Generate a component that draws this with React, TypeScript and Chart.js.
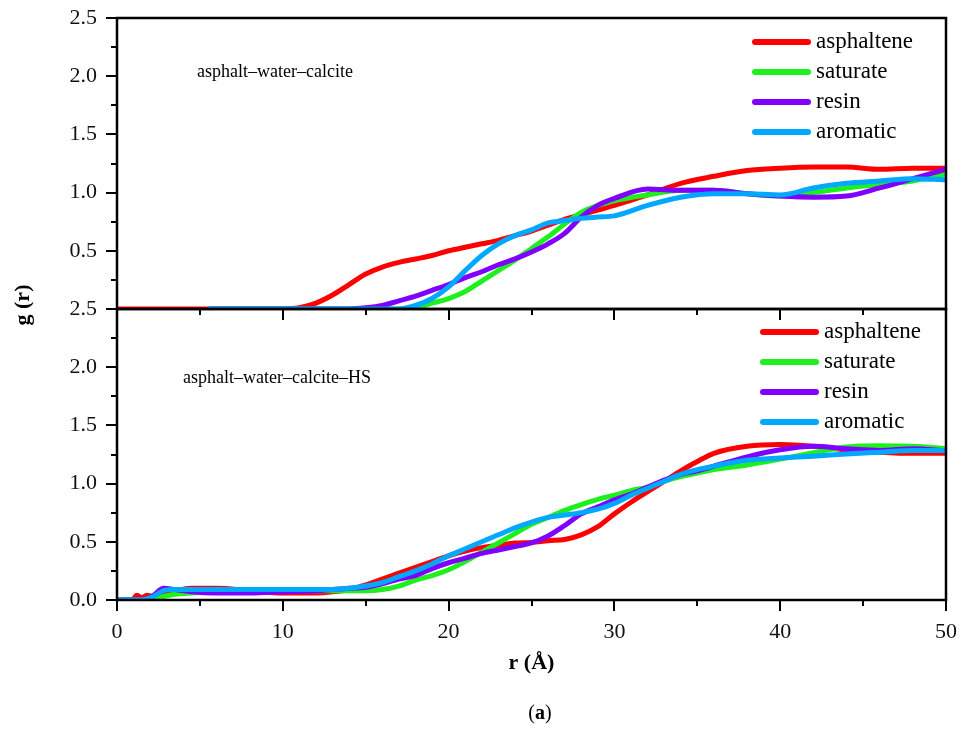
import { useEffect, useRef } from "react";
import { Chart, registerables } from "chart.js";

Chart.register(...registerables);

// Series shown in both panels
const SERIES = ["asphaltene", "saturate", "resin", "aromatic"];
const COLORS = ["#ff0000", "#1ef01e", "#8000ff", "#00a8ff"];
const PANEL_TITLES = ["asphalt\u2013water\u2013calcite", "asphalt\u2013water\u2013calcite\u2013HS"];

// Upper panel: asphalt–water–calcite, g(r) against r (Å)
const R_TOP = [0, 5.6, 10, 11, 12, 13, 14, 15, 16, 17, 18, 19, 20, 21, 22, 23, 24, 25, 26, 27, 28, 29, 30, 32, 34, 36, 38, 40, 42, 44, 46, 48, 50];
const TOP_ASPHALTENE = [0, 0, 0, 0.01, 0.05, 0.12, 0.21, 0.3, 0.36, 0.4, 0.43, 0.46, 0.5, 0.53, 0.56, 0.59, 0.63, 0.67, 0.72, 0.77, 0.81, 0.85, 0.89, 0.98, 1.08, 1.14, 1.19, 1.21, 1.22, 1.22, 1.2, 1.21, 1.21];
const TOP_SATURATE = [null, 0, 0, 0, 0, 0, 0, 0, 0, 0, 0.01, 0.05, 0.09, 0.15, 0.24, 0.33, 0.42, 0.52, 0.62, 0.73, 0.83, 0.89, 0.93, 0.98, 1.02, 1.02, 0.99, 0.97, 1.0, 1.04, 1.07, 1.1, 1.16];
const TOP_RESIN = [null, 0, 0, 0, 0, 0, 0, 0.01, 0.03, 0.07, 0.11, 0.16, 0.21, 0.27, 0.32, 0.38, 0.43, 0.49, 0.56, 0.65, 0.79, 0.89, 0.95, 1.03, 1.02, 1.02, 0.99, 0.97, 0.96, 0.97, 1.04, 1.12, 1.2];
const TOP_AROMATIC = [null, 0, 0, 0, 0, 0, 0, 0, 0, 0, 0.03, 0.09, 0.19, 0.33, 0.46, 0.56, 0.63, 0.68, 0.74, 0.76, 0.78, 0.79, 0.8, 0.89, 0.96, 0.99, 0.99, 0.98, 1.04, 1.08, 1.1, 1.12, 1.11];

// Lower panel: asphalt–water–calcite–HS
const R_BOTTOM = [0, 0.9, 1.2, 1.5, 1.8, 2.2, 2.8, 3.5, 4.5, 6, 8, 10, 12, 13, 14, 15, 16, 17, 18, 19, 20, 21, 22, 23, 24, 25, 26, 27, 28, 29, 30, 31, 32, 33, 34, 35, 36, 38, 40, 42, 44, 46, 48, 50];
const BOT_ASPHALTENE = [0, 0, 0.04, 0.02, 0.04, 0.03, 0.07, 0.08, 0.1, 0.1, 0.08, 0.06, 0.06, 0.07, 0.09, 0.13, 0.18, 0.23, 0.28, 0.33, 0.38, 0.42, 0.45, 0.47, 0.49, 0.495, 0.51, 0.52, 0.56, 0.63, 0.74, 0.84, 0.93, 1.02, 1.11, 1.19, 1.26, 1.32, 1.335, 1.32, 1.29, 1.27, 1.26, 1.26];
const BOT_SATURATE = [0, 0, 0, 0, 0, 0, 0.03, 0.05, 0.06, 0.07, 0.08, 0.08, 0.08, 0.08, 0.08, 0.08, 0.09, 0.12, 0.17, 0.21, 0.26, 0.33, 0.41, 0.49, 0.57, 0.65, 0.71, 0.77, 0.82, 0.865, 0.9, 0.94, 0.97, 1.02, 1.06, 1.09, 1.12, 1.16, 1.21, 1.265, 1.315, 1.325, 1.32, 1.3];
const BOT_RESIN = [0, 0, 0, 0, 0.01, 0.04, 0.1, 0.09, 0.07, 0.06, 0.06, 0.07, 0.08, 0.09, 0.1, 0.11, 0.14, 0.18, 0.21, 0.27, 0.32, 0.36, 0.4, 0.43, 0.46, 0.49, 0.55, 0.64, 0.74, 0.8, 0.86, 0.91, 0.97, 1.03, 1.08, 1.11, 1.15, 1.23, 1.29, 1.32, 1.3, 1.285, 1.3, 1.28];
const BOT_AROMATIC = [0, 0, 0, 0, 0.01, 0.03, 0.08, 0.09, 0.09, 0.09, 0.09, 0.09, 0.09, 0.09, 0.1, 0.12, 0.15, 0.2, 0.25, 0.31, 0.38, 0.44, 0.5, 0.56, 0.62, 0.67, 0.71, 0.73, 0.75, 0.78, 0.83, 0.9, 0.96, 1.02, 1.08, 1.12, 1.15, 1.2, 1.22, 1.235, 1.255, 1.27, 1.285, 1.285];

const R_MAX = 50;
const G_MAX = 2.5;
const R_STEP = 10;
const G_STEP = 0.5;

const SERIF = "'Liberation Serif', 'Times New Roman', serif";

type Pt = { x: number; y: number };
function toPoints(rs: number[], gs: (number | null)[]): Pt[] {
  const out: Pt[] = [];
  rs.forEach((r, i) => {
    const g = gs[i];
    if (g !== null && g !== undefined) out.push({ x: r, y: g });
  });
  return out;
}

// Panel frames plus major/minor tick marks on the left and bottom edges
const framePlugin = {
  id: "panelFrames",
  afterDatasetsDraw(chart: any) {
    const { ctx, scales } = chart;
    const x = scales.x;
    const panels = [scales.yTop, scales.yBot];
    ctx.save();
    ctx.strokeStyle = "#000";
    ctx.lineWidth = 2.5;
    for (const ys of panels) {
      ctx.strokeRect(x.left, ys.top, x.right - x.left, ys.bottom - ys.top);
    }
    ctx.lineWidth = 2;
    ctx.beginPath();
    for (const ys of panels) {
      for (let k = 0; k <= 10; k++) {
        const v = k * 0.25;
        const len = k % 2 === 0 ? 11 : 6;
        const py = Math.round(ys.getPixelForValue(v));
        ctx.moveTo(x.left - len, py);
        ctx.lineTo(x.left, py);
      }
      for (let k = 0; k <= 10; k++) {
        const v = k * 5;
        const len = k % 2 === 0 ? 11 : 6;
        const px = Math.round(x.getPixelForValue(v));
        ctx.moveTo(px, ys.bottom);
        ctx.lineTo(px, ys.bottom + len);
      }
    }
    ctx.stroke();
    ctx.restore();
  },
};

// Legends, panel captions, axis titles and figure label
const textPlugin = {
  id: "panelText",
  afterDraw(chart: any) {
    const { ctx, chartArea, scales } = chart;
    const yTop = scales.yTop;
    const yBot = scales.yBot;
    ctx.save();
    ctx.fillStyle = "#000";
    ctx.textBaseline = "middle";

    const legends = [
      { lineStart: chartArea.right - 191, lineEnd: chartArea.right - 138, textX: chartArea.right - 130, firstY: yTop.top + 24 },
      { lineStart: chartArea.right - 183, lineEnd: chartArea.right - 130, textX: chartArea.right - 122, firstY: yBot.top + 23 },
    ];
    for (const lg of legends) {
      SERIES.forEach((name, i) => {
        const y = lg.firstY + i * 30;
        ctx.strokeStyle = COLORS[i];
        ctx.lineWidth = 6;
        ctx.lineCap = "round";
        ctx.beginPath();
        ctx.moveTo(lg.lineStart, y);
        ctx.lineTo(lg.lineEnd, y);
        ctx.stroke();
        ctx.font = `23px ${SERIF}`;
        ctx.textAlign = "left";
        ctx.fillText(name, lg.textX, y);
      });
    }

    ctx.font = `18px ${SERIF}`;
    ctx.textAlign = "left";
    ctx.fillText(PANEL_TITLES[0], chartArea.left + 80, yTop.top + 54);
    ctx.fillText(PANEL_TITLES[1], chartArea.left + 66, yBot.top + 69);

    // y-axis title spanning both panels
    ctx.font = `bold 22px ${SERIF}`;
    ctx.textAlign = "center";
    ctx.save();
    ctx.translate(23, (yTop.top + yBot.bottom) / 2 - 4);
    ctx.rotate(-Math.PI / 2);
    ctx.fillText("g (r)", 0, 0);
    ctx.restore();

    // x-axis title
    ctx.fillText("r (\u00c5)", (chartArea.left + chartArea.right) / 2, chartArea.bottom + 63);

    // figure label "(a)" with bold letter
    const cy = chartArea.bottom + 114;
    const cx = 540;
    ctx.font = `20px ${SERIF}`;
    const wOpen = ctx.measureText("(").width;
    const wClose = ctx.measureText(")").width;
    ctx.font = `bold 20px ${SERIF}`;
    const wA = ctx.measureText("a").width;
    const total = wOpen + wA + wClose;
    let px = cx - total / 2;
    ctx.textAlign = "left";
    ctx.font = `20px ${SERIF}`;
    ctx.fillText("(", px, cy);
    px += wOpen;
    ctx.font = `bold 20px ${SERIF}`;
    ctx.fillText("a", px, cy);
    px += wA;
    ctx.font = `20px ${SERIF}`;
    ctx.fillText(")", px, cy);

    ctx.restore();
  },
};

function yScale(weight: number, hideZero: boolean) {
  return {
    type: "linear" as const,
    position: "left" as const,
    stack: "panels",
    stackWeight: 1,
    weight,
    min: 0,
    max: G_MAX,
    // grid lines hidden; tick length only reserves room before the labels
    grid: { display: false, drawTicks: true, tickLength: 17 },
    border: { display: false },
    ticks: {
      stepSize: G_STEP,
      padding: 3,
      color: "#111",
      font: { family: SERIF, size: 22 },
      callback: (v: any) => (hideZero && Number(v) === 0 ? "" : Number(v).toFixed(1)),
    },
    afterFit: (s: any) => {
      s.width = 100;
    },
  };
}

export default function App() {
  const canvasRef = useRef<HTMLCanvasElement>(null);

  useEffect(() => {
    const topSets = [TOP_ASPHALTENE, TOP_SATURATE, TOP_RESIN, TOP_AROMATIC];
    const botSets = [BOT_ASPHALTENE, BOT_SATURATE, BOT_RESIN, BOT_AROMATIC];
    const datasets: any[] = [];
    [
      { rs: R_TOP, sets: topSets, axis: "yTop" },
      { rs: R_BOTTOM, sets: botSets, axis: "yBot" },
    ].forEach((panel) => {
      panel.sets.forEach((gs, i) => {
        datasets.push({
          label: SERIES[i],
          data: toPoints(panel.rs, gs),
          yAxisID: panel.axis,
          xAxisID: "x",
          borderColor: COLORS[i],
          backgroundColor: COLORS[i],
          borderWidth: 5,
          pointRadius: 0,
          cubicInterpolationMode: "monotone",
          borderCapStyle: "round",
          borderJoinStyle: "round",
          fill: false,
          order: SERIES.length - 1 - i,
        });
      });
    });

    const chart = new Chart(canvasRef.current as HTMLCanvasElement, {
      type: "line",
      data: { datasets },
      options: {
        responsive: false,
        animation: false,
        devicePixelRatio: 1,
        events: [],
        layout: { padding: { left: 17, right: 17, top: 18, bottom: 93 } },
        plugins: { legend: { display: false }, tooltip: { enabled: false } },
        scales: {
          x: {
            type: "linear",
            position: "bottom",
            min: 0,
            max: R_MAX,
            grid: { display: false, drawTicks: true, tickLength: 16 },
            border: { display: false },
            ticks: {
              stepSize: R_STEP,
              padding: 3,
              maxRotation: 0,
              color: "#111",
              font: { family: SERIF, size: 22 },
            },
            afterFit: (s: any) => {
              s.height = 40;
            },
          },
          yTop: yScale(2, true),
          yBot: yScale(1, false),
        } as any,
      },
      plugins: [framePlugin, textPlugin],
    });

    return () => chart.destroy();
  }, []);

  return (
    <div style={{ position: "absolute", left: 0, top: 0, width: 963, height: 733, background: "#fff" }}>
      <canvas ref={canvasRef} width={963} height={733} style={{ display: "block", width: 963, height: 733 }} />
    </div>
  );
}
